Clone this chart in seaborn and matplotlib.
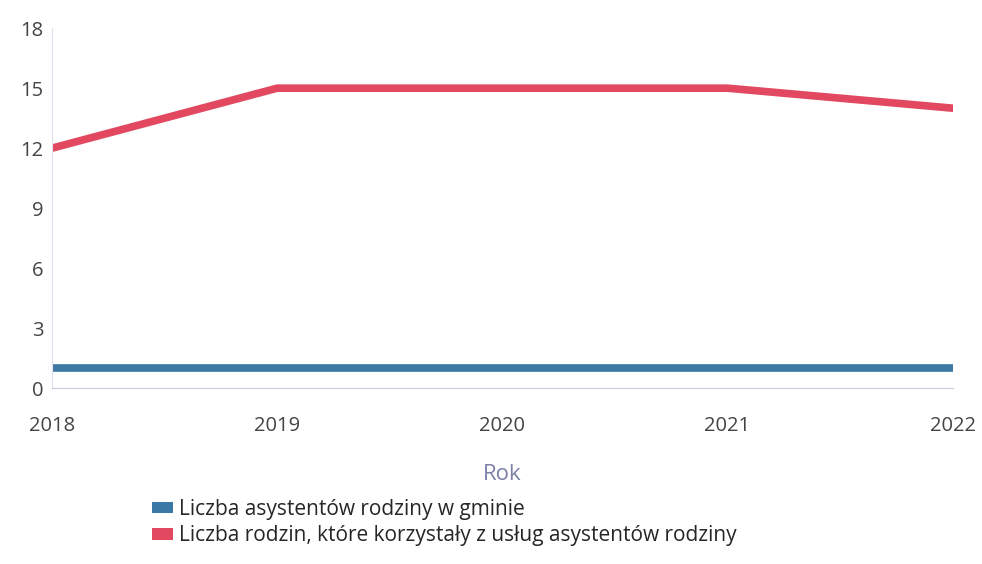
import pandas as pd
import matplotlib.pyplot as plt
import seaborn as sns
from matplotlib.patches import Patch

# data
years = [2018, 2019, 2020, 2021, 2022]
asystenci = [1, 1, 1, 1, 1]
rodziny = [12, 15, 15, 15, 14]
series_names = [
    "Liczba asystentów rodziny w gminie",
    "Liczba rodzin, które korzystały z usług asystentów rodziny",
]
colors = ["#3b78a6", "#e2485f"]
y_ticks = [0, 3, 6, 9, 12, 15, 18]

df = pd.DataFrame({
    "Rok": years * 2,
    "Wartość": asystenci + rodziny,
    "Seria": [series_names[0]] * len(years) + [series_names[1]] * len(years),
})

sns.set_style("white")
plt.rcParams["font.family"] = ["Open Sans", "DejaVu Sans"]

fig = plt.figure(figsize=(9.82, 5.64), dpi=100)
ax = fig.add_axes([0.053, 0.312, 0.917, 0.638])

sns.lineplot(data=df, x="Rok", y="Wartość", hue="Seria",
             palette=dict(zip(series_names, colors)),
             linewidth=5.5, legend=False, ax=ax)

ax.set_xlim(years[0], years[-1])
ax.set_ylim(0, 18)
ax.set_yticks(y_ticks)
ax.set_xticks(years)
ax.tick_params(axis="both", length=0, labelsize=14.5, labelcolor="#444444")
ax.tick_params(axis="x", pad=20)
ax.tick_params(axis="y", pad=6)

for side in ["top", "right"]:
    ax.spines[side].set_visible(False)
ax.spines["left"].set_color("#dde0ee")
ax.spines["bottom"].set_color("#c8cbe0")
ax.spines["left"].set_linewidth(0.8)
ax.spines["bottom"].set_linewidth(0.8)

ax.set_ylabel("")
ax.set_xlabel("Rok", fontsize=16, color="#7a80a8", labelpad=20)

handles = [Patch(facecolor=c, edgecolor="none") for c in colors]
fig.legend(handles, series_names, loc="upper left",
           bbox_to_anchor=(0.155, 0.115), frameon=False, fontsize=15,
           handlelength=1.0, handleheight=0.45, handletextpad=0.3,
           labelspacing=0.25, borderaxespad=0, borderpad=0)

fig.savefig("out.png", dpi=100)
